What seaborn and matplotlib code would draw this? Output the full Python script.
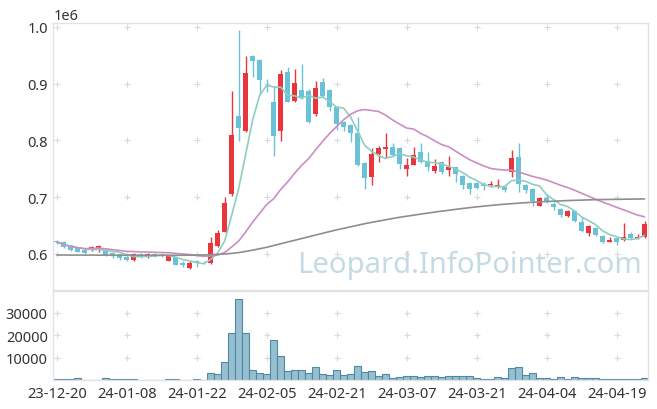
import numpy as np
import pandas as pd
import seaborn as sns
import matplotlib.pyplot as plt

# tick labels every 10 trading days
tick_labels = ['23-12-20', '24-01-08', '24-01-22', '24-02-05', '24-02-21',
               '24-03-07', '24-03-21', '24-04-04', '24-04-19']

opens = [622000, 621200, 615900, 610600, 606500, 607100, 611100, 607100, 601800, 599500,
         595200, 589900, 600500, 596500, 600000, 599000, 588500, 594200, 584100, 575300,
         588200, 586000, 584700, 614600, 639300, 705800, 843400, 817500, 948700, 942200,
         898000, 868600, 817500, 920500, 870400, 889200, 888000, 846900, 902800, 889200,
         859800, 832300, 827500, 813400, 760500, 736300, 775800, 785200, 788700, 786400,
         749900, 757500, 780400, 764000, 745900, 761700, 748200, 752900, 738100, 725200,
         725200, 722900, 721500, 717600, 718700, 744100, 771600, 721700, 714600, 685200,
         698800, 687300, 679400, 667500, 676400, 655900, 637000, 645900, 632300, 621700,
         628200, 624700, 635300, 627700, 629500]

closes = [621000, 612300, 607100, 604100, 601800, 612900, 614600, 598200, 596500, 592900,
          589900, 600500, 595200, 600500, 596500, 597500, 596500, 581100, 580100, 583600,
          584100, 585000, 619400, 637000, 690000, 809900, 822200, 919200, 940900, 905700,
          897000, 808600, 917500, 868600, 901600, 876400, 833300, 892200, 879200, 859800,
          829300, 824500, 812900, 757000, 733500, 776400, 786900, 788700, 774600, 758700,
          757000, 774600, 762800, 754000, 755700, 745200, 754000, 740600, 722200, 714600,
          715900, 719400, 723000, 721700, 712900, 769300, 723500, 713400, 694000, 699300,
          691200, 682000, 669300, 676400, 658700, 640000, 649900, 634000, 621700, 625200,
          621700, 630500, 627700, 630500, 652900]

highs = [624000, 622000, 616000, 611000, 608000, 614000, 616000, 608000, 603000, 600500,
         596000, 602300, 602300, 601500, 602000, 601000, 598000, 595500, 587100, 587100,
         589000, 588000, 629500, 642300, 700000, 887000, 993800, 948700, 950000, 943500,
         908600, 896800, 923300, 929300, 925800, 935100, 890000, 903900, 909900, 890000,
         861000, 834000, 829000, 841100, 762000, 786400, 791000, 812900, 795800, 788000,
         768800, 788200, 795800, 779400, 767600, 763000, 773400, 754000, 739000, 726000,
         726500, 726500, 728700, 732300, 722200, 783400, 795800, 723000, 716000, 700500,
         705800, 691700, 680500, 677500, 677500, 665300, 651000, 647000, 633500, 629500,
         629000, 654100, 638300, 635300, 658700]

lows = [618000, 611000, 605300, 603000, 600000, 605300, 603500, 596500, 592900, 589400,
        588000, 588500, 593500, 593500, 595000, 595000, 587000, 580000, 577600, 573500,
        577600, 582000, 583000, 613000, 638000, 702800, 799800, 815000, 911600, 882200,
        885700, 773400, 799800, 867000, 868100, 873400, 831000, 843900, 877000, 852700,
        819200, 817500, 797000, 755000, 714600, 721700, 761700, 768800, 770500, 749900,
        737000, 756000, 761000, 746900, 742900, 741100, 738100, 727500, 714600, 705800,
        714000, 713400, 717600, 716000, 708800, 735300, 709900, 707600, 685200, 684000,
        690000, 677600, 664700, 666000, 655900, 638300, 632300, 631200, 620000, 620500,
        615900, 623000, 626500, 626500, 628000]

volumes = [450, 450, 450, 750, 0, 0, 0, 750, 450, 450,
           450, 450, 0, 0, 0, 0, 450, 450, 0, 0,
           450, 0, 3000, 2700, 7900, 20800, 36000, 20800, 4300, 3000,
           2700, 17700, 10600, 3900, 4300, 4300, 3000, 5650, 2700, 2100,
           4300, 2200, 2700, 6100, 3400, 3900, 1800, 2700, 750, 1200,
           1600, 1600, 1200, 1600, 1600, 1200, 1600, 1600, 1600, 1600,
           750, 300, 300, 1200, 750, 5200, 5650, 2200, 3000, 750,
           750, 300, 1200, 300, 1200, 750, 750, 750, 300, 300,
           300, 300, 300, 300, 750]

# long moving average
ma_long = [598200, 598200, 598100, 598100, 598000, 598000, 597900, 597900, 597800, 597800,
           597800, 597700, 597700, 597700, 597700, 597700, 597700, 597800, 597800, 597900,
           598000, 598300, 598700, 599300, 600000, 601000, 602500, 604500, 606800, 609200,
           611800, 614900, 618000, 621100, 624100, 627200, 630300, 633400, 636400, 639500,
           642500, 645200, 647900, 650600, 653300, 655700, 658000, 660200, 662500, 664700,
           666500, 668400, 670200, 672000, 673800, 675400, 677000, 678600, 680200, 681600,
           683000, 684200, 685500, 686700, 687700, 688600, 689500, 690400, 691200, 691800,
           692400, 693000, 693500, 694100, 694500, 694900, 695300, 695600, 695900, 696100,
           696300, 696500, 696700, 696800, 697000]

df = pd.DataFrame({'open': opens, 'high': highs, 'low': lows, 'close': closes,
                   'volume': volumes, 'ma_long': ma_long})
df['idx'] = np.arange(len(df))
df['ma5'] = df['close'].rolling(5, min_periods=1).mean()
df['ma20'] = df['close'].rolling(20, min_periods=1).mean()

UP = '#e8363c'
DOWN = '#6ac2d8'
GRID = '#d9d9d9'
SPINE = '#e2e2e2'

sns.set_theme(style='white')
plt.rcParams['font.family'] = ['Noto Sans', 'DejaVu Sans']

fig = plt.figure(figsize=(6.57, 4.10), dpi=100)
ax = fig.add_axes([0.0811, 0.2902, 0.9052, 0.6513])
axv = fig.add_axes([0.0811, 0.0707, 0.9052, 0.2171])

tick_pos = np.arange(0, len(df), 10)
n = len(df)

# watermark
ax.text(0.70, 0.094, 'Leopard.InfoPointer.com', transform=ax.transAxes,
        ha='center', va='center', fontsize=21, color='#c6dae6', zorder=0.5)

# candles
up = df['close'] >= df['open']
colors = np.where(up, UP, DOWN)
body_b = df[['open', 'close']].min(axis=1)
body_h = (df['close'] - df['open']).abs().clip(lower=1200)
ax.vlines(df['idx'], df['low'], df['high'], colors=colors, lw=1, zorder=2)
ax.bar(df['idx'], body_h, bottom=body_b, width=0.7, color=colors, lw=0, zorder=2)

# moving averages
sns.lineplot(data=df, x='idx', y='ma5', ax=ax, color='#8ccfc0', lw=1.2, zorder=3)
sns.lineplot(data=df, x='idx', y='ma20', ax=ax, color='#cb8dc3', lw=1.2, zorder=3)
sns.lineplot(data=df, x='idx', y='ma_long', ax=ax, color='#8e8e8e', lw=1.2, zorder=3)

ax.set_xlim(-0.5, n - 0.5)
ax.set_ylim(536500, 1007000)
ax.set_yticks([600000, 700000, 800000, 900000, 1000000])
ax.set_xticks(tick_pos)
ax.set_xticklabels([])
gx, gy = np.meshgrid(tick_pos, ax.get_yticks())
ax.plot(gx.ravel(), gy.ravel(), '+', color=GRID, ms=5, mew=0.8, zorder=0.3)

# volume
sns.barplot(x=df['idx'], y=df['volume'], ax=axv, color='#96bfd1', edgecolor='#5189a3',
            linewidth=0.8, width=1.0, saturation=1, zorder=2)
axv.set_xlim(-0.5, n - 0.5)
axv.set_ylim(0, 39700)
axv.set_yticks([10000, 20000, 30000])
axv.set_xticks(tick_pos)
axv.set_xticklabels(tick_labels)
gx, gy = np.meshgrid(tick_pos, axv.get_yticks())
axv.plot(gx.ravel(), gy.ravel(), '+', color=GRID, ms=5, mew=0.8, zorder=0.3)

for a in (ax, axv):
    a.set_xlabel('')
    a.set_ylabel('')
    a.tick_params(length=0, labelsize=10.5, colors='#333333', pad=4)
    for s in a.spines.values():
        s.set_color(SPINE)
        s.set_linewidth(1)
ax.yaxis.get_offset_text().set_fontsize(10.5)
ax.yaxis.get_offset_text().set_color('#333333')

fig.savefig('out.png', dpi=100)
